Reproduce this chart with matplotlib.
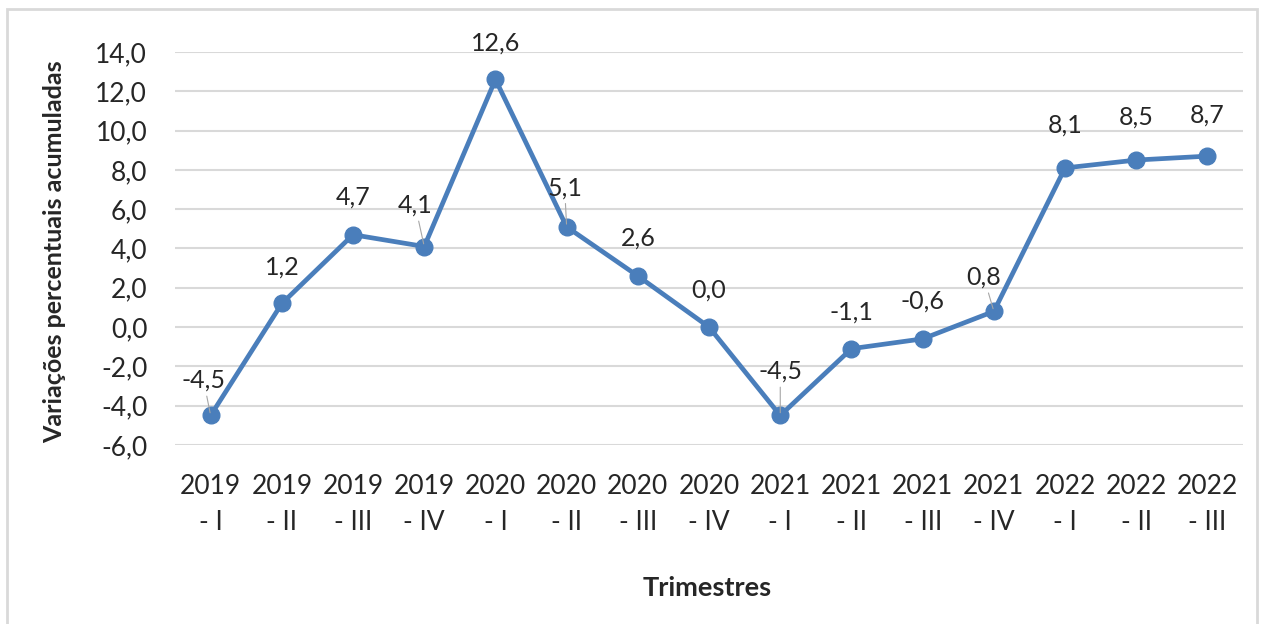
import matplotlib.pyplot as plt
from matplotlib.patches import Rectangle

# data
quarters = ["2019\n- I", "2019\n- II", "2019\n- III", "2019\n- IV",
            "2020\n- I", "2020\n- II", "2020\n- III", "2020\n- IV",
            "2021\n- I", "2021\n- II", "2021\n- III", "2021\n- IV",
            "2022\n- I", "2022\n- II", "2022\n- III"]
values = [-4.5, 1.2, 4.7, 4.1, 12.6, 5.1, 2.6, 0.0,
          -4.5, -1.1, -0.6, 0.8, 8.1, 8.5, 8.7]
y_ticks = [-6, -4, -2, 0, 2, 4, 6, 8, 10, 12, 14]

# label offsets in pixels (dx, dy) and which labels get a leader line
label_dx = [-7, 0, 0, -9, 0, -2, 0, 0, 0, 0, 0, -10, 0, 0, 0]
label_dy = [35, 36, 38, 41, 36, 39, 38, 37, 44, 37, 38, 34, 43, 43, 41]
leader = [True, False, False, True, False, True, False, False,
          True, False, False, True, False, False, False]

plt.rcParams['font.family'] = ['Lato', 'DejaVu Sans']
BLUE = "#4a7ebb"
TXT = "#262626"

fig = plt.figure(figsize=(12.62, 6.24), dpi=100)
ax = fig.add_axes([0.1387, 0.2869, 0.8463, 0.6298])

x = list(range(len(values)))
ax.plot(x, values, color=BLUE, lw=3.4, marker="o", ms=12, zorder=3)

for i, v in enumerate(values):
    txt = f"{v:.1f}".replace(".", ",")
    arrow = None
    if leader[i]:
        arrow = dict(arrowstyle="-", color="#a6a6a6", lw=0.8, shrinkA=1, shrinkB=2)
    ax.annotate(txt, (i, v), xytext=(label_dx[i], label_dy[i]),
                textcoords="offset pixels", ha="center", va="center",
                fontsize=18, color=TXT, arrowprops=arrow, zorder=4)

ax.set_xlim(-0.5, len(values) - 0.5)
ax.set_ylim(-6, 14)
ax.set_yticks(y_ticks)
ax.set_yticklabels([f"{t:.1f}".replace(".", ",") for t in y_ticks])
ax.set_xticks(x)
ax.set_xticklabels(quarters, linespacing=1.55)
ax.grid(axis="y", color="#d9d9d9", lw=1.5)
ax.set_axisbelow(True)
for s in ax.spines.values():
    s.set_visible(False)
ax.tick_params(axis="x", length=0, pad=21, labelsize=19, labelcolor=TXT)
ax.tick_params(axis="y", length=0, pad=20, labelsize=19, labelcolor=TXT)

fig.text(55 / 1262, 1 - 252 / 624, "Variações percentuais acumuladas",
         rotation=90, ha="center", va="center", fontsize=18,
         fontweight="bold", color=TXT)
fig.text(707 / 1262, 1 - 588 / 624, "Trimestres", ha="center", va="center",
         fontsize=19.5, fontweight="bold", color=TXT)

# light frame around the chart
fig.patches.append(Rectangle((7 / 1262, -0.05), 1250 / 1262, 1.05 - 9 / 624,
                             transform=fig.transFigure, fill=False,
                             edgecolor="#d9d9d9", lw=2))

fig.savefig("out.png", dpi=100, facecolor="white")
